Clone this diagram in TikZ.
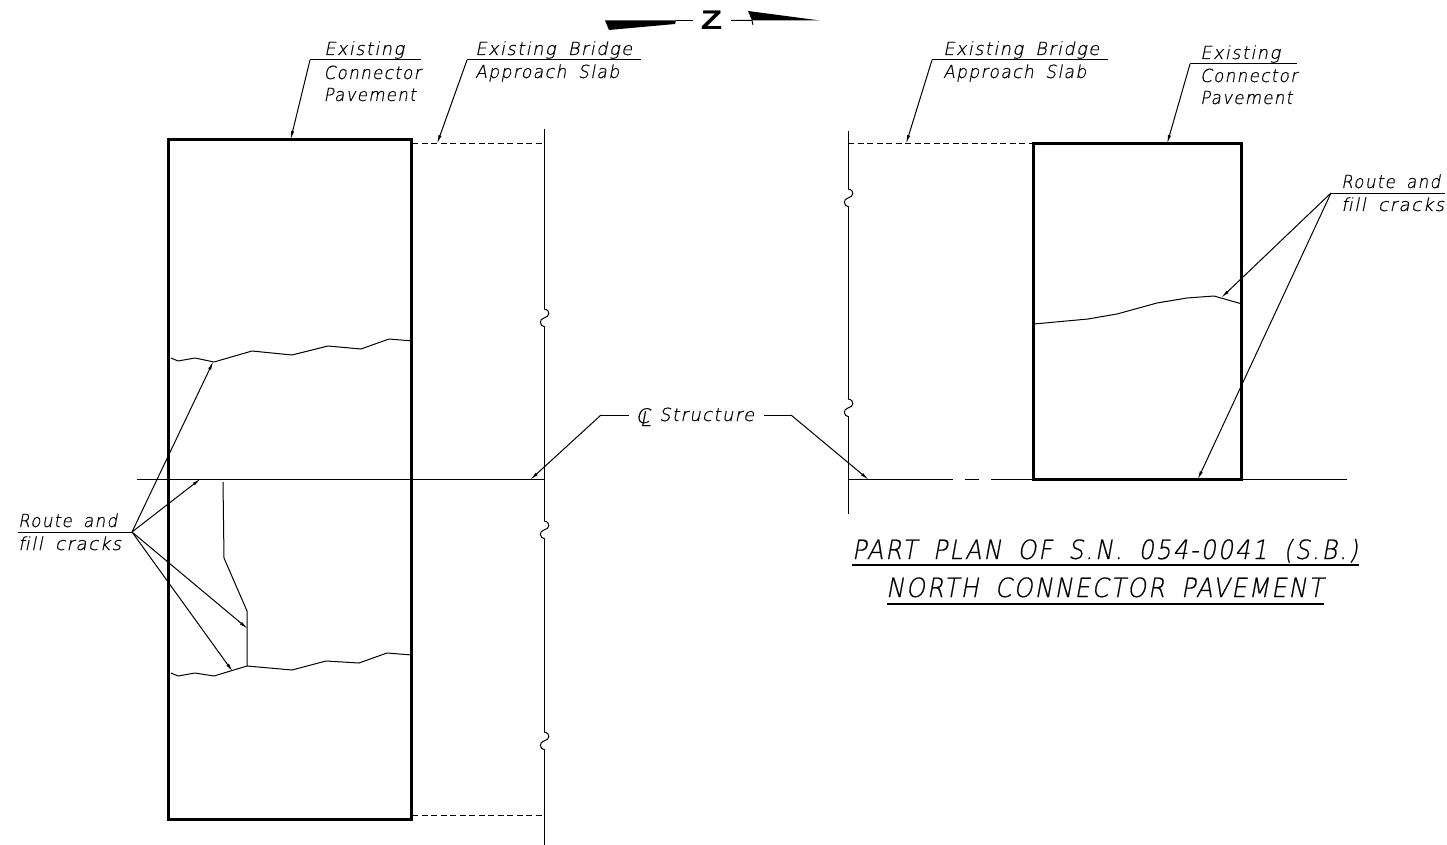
\documentclass[tikz,border=0pt]{standalone}
\usepackage{fontspec}
\usepackage{graphicx}
\setmainfont{Liberation Sans}
\newfontfamily\drawfont[LetterSpace=8,FakeSlant=0.2,FakeBold=0.6,WordSpace=1.7]{DejaVu Sans ExtraLight}
\usetikzlibrary{arrows.meta}
\newsavebox{\fitbox}
\newcommand{\fitw}[2]{\sbox{\fitbox}{#2}\pgfmathsetmacro{\fitr}{#1/(\wd\fitbox/1pt)}\scalebox{\fitr}[1]{\usebox{\fitbox}}}
\tikzset{
  every picture/.style={x=1pt,y=-1pt},
  heavy/.style={line width=3pt,black,line join=miter},
  leader/.style={line width=1pt,black,line join=miter,-{Latex[length=9pt,width=3.2pt]}},
  guide/.style={line width=1pt,black},
  dash line/.style={guide,dash pattern=on 6pt off 3.5pt},
  lbl/.style={inner sep=0pt,anchor=base west,font=\fontsize{18}{20}\selectfont\drawfont},
  ttl/.style={inner sep=0pt,anchor=base,font=\fontsize{26.5}{28}\selectfont\drawfont},
  crack/.style={line width=1pt,black,line join=round},
  brk/.style={line width=1pt,black}
}
\newcommand{\wig}[2]{\draw[brk] (#1,#2-9) .. controls (#1+7,#2-8) and (#1+6,#2-1) .. (#1,#2) .. controls (#1-5,#2+1) and (#1-5,#2+8) .. (#1+1,#2+9);}
\begin{document}
\begin{tikzpicture}
\useasboundingbox (0,0) rectangle (1447,845);
% north arrow
\fill (605,20.5) -- (609,30) -- (675,24) -- (676,20.5) -- cycle;
\draw[guide] (676,20.5) -- (693,20.5);
\draw[guide] (731,20.5) -- (752,20.5) -- (753,25);
\fill (748,11) -- (820,20.5) -- (752,20.5) -- cycle;
\node[inner sep=0pt] (north) at (711.5,20.5) {\scalebox{1.3}[1]{\fontsize{27}{28}\selectfont\bfseries Z}};
% left plan
\node[draw,heavy,inner sep=0pt,minimum width=243pt,minimum height=679pt] (slabL) at (290,479.5) {};
\coordinate (clLa) at (137,479);
\coordinate (clLb) at (544,479);
\draw[guide] (clLa) -- (clLb);
\draw[dash line] (412,143.5) -- (544,143.5);
\draw[dash line] (412,815.5) -- (544,815.5);
\draw[guide] (544,129) -- (544,309) (544,327) -- (544,521) (544,539) -- (544,732) (544,750) -- (544,845);
\wig{544}{318}\wig{544}{530}\wig{544}{741}
% right plan
\node[draw,heavy,inner sep=0pt,minimum width=208pt,minimum height=336pt] (slabR) at (1137.5,311.3) {};
\draw[guide] (848,131) -- (848,189) (848,207) -- (848,399) (848,417) -- (848,514);
\wig{848}{198}\wig{848}{408}
\draw[dash line] (848,143.5) -- (1034,143.5);
\coordinate (clRa) at (848,479);
\draw[guide] (clRa) -- (953,479) (965,479) -- (979,479) (991,479) -- (1347,479);
% cracks
\draw[crack] (171,358) -- (178,361) -- (195,358) -- (214,362) -- (252,351) -- (292,355) -- (328,346) -- (361,349) -- (389,339) -- (413,341);
\draw[crack] (171,673) -- (178,676) -- (195,673) -- (214,676) -- (247,666) -- (292,670) -- (326,661) -- (359,663) -- (387,653) -- (412,655);
\draw[crack] (223,482) -- (224,558) -- (247,611) -- (247,666);
\draw[crack] (1034,324) -- (1088,319) -- (1117,314) -- (1157,303) -- (1187,298) -- (1214,296) -- (1242,304);
% labels
\node[lbl] (e1) at (324,55) {\fitw{80}{Existing}};
\node[lbl] (e2) at (323.5,79) {\fitw{97}{Connector}};
\node[lbl] (e3) at (323.5,101) {\fitw{92}{Pavement}};
\node[lbl] (b1) at (475,55) {\fitw{157}{Existing Bridge}};
\node[lbl] (b2) at (475,78) {\fitw{144}{Approach Slab}};
\node[lbl] (b3) at (943,55) {\fitw{156}{Existing Bridge}};
\node[lbl] (b4) at (943,78) {\fitw{143}{Approach Slab}};
\node[lbl] (r1) at (1200,59) {\fitw{80}{Existing}};
\node[lbl] (r2) at (1200,82) {\fitw{97}{Connector}};
\node[lbl] (r3) at (1200,104) {\fitw{92}{Pavement}};
\node[lbl] (f1) at (1341,188) {\fitw{99}{Route and}};
\node[lbl] (f2) at (1341,211) {\fitw{103}{f\kern0pt ill cracks}};
\node[lbl] (f3) at (18,527) {\fitw{99}{Route and}};
\node[lbl] (f4) at (18,550) {\fitw{103}{f\kern0pt ill cracks}};
\node[lbl] (cl) at (659,421) {\fitw{95}{Structure}};
\node[lbl,font=\fontsize{20}{20}\selectfont\drawfont] (csym) at (635.5,423) {\rlap{C}\raisebox{-3pt}{\kern4pt L}};
\node[ttl] (t1) at (1105,559) {\fitw{506}{PART PLAN OF S.N. 054-0041 (S.B.)}};
\node[ttl] (t2) at (1104.5,597) {\fitw{437}{NORTH CONNECTOR PAVEMENT}};
\draw[line width=2.5pt] (852,565) -- (1359,565);
\draw[line width=2.5pt] (887,604) -- (1324,604);
% leaders
\coordinate (u1) at (310,60); \coordinate (u1e) at (421,60);
\draw[guide] (u1) -- (u1e);
\draw[leader] (u1) -- (290.5,140);
\coordinate (u2) at (467,60); \coordinate (u2e) at (641,60);
\draw[guide] (u2) -- (u2e);
\draw[leader] (u2) -- (437,144);
\coordinate (u3) at (932,60); \coordinate (u3e) at (1108,60);
\draw[guide] (u3) -- (u3e);
\draw[leader] (u3) -- (906,144);
\coordinate (u4) at (1190,64); \coordinate (u4e) at (1297,64);
\draw[guide] (u4) -- (u4e);
\draw[leader] (u4) -- (1167,144);
\coordinate (u5) at (1331,193); \coordinate (u5e) at (1445,193);
\draw[guide] (u5) -- (u5e);
\draw[leader] (u5) -- (1221,298);
\draw[leader] (u5) -- (1197.5,480);
\coordinate (u6) at (132,532); \coordinate (u6e) at (18,532);
\draw[guide] (u6) -- (u6e);
\draw[leader] (u6) -- (213.5,361);
\draw[leader] (u6) -- (201,478.5);
\draw[leader] (u6) -- (248,629);
\draw[leader] (u6) -- (233,672);
\draw[guide] (629,415) -- (601,415);
\draw[leader] (601,415) -- (530,480);
\draw[guide] (764,415) -- (791,415);
\draw[leader] (791,415) -- (869,480);
\end{tikzpicture}
\end{document}
